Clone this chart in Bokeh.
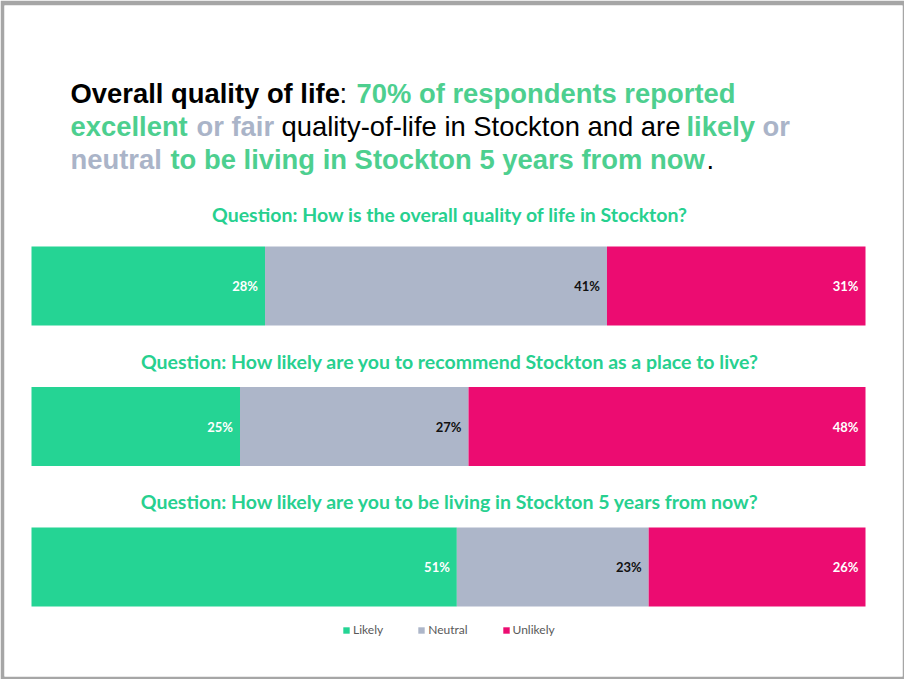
from bokeh.plotting import figure
from bokeh.models import Range1d, Label, Legend, LegendItem, ColumnDataSource
from bokeh.core.properties import value
from bokeh.embed import file_html
from bokeh.resources import INLINE

# ---------------- data ----------------
questions = [
    "Question:  How is the overall quality of life in Stockton?",
    "Question:  How likely are you to recommend Stockton as a place to live?",
    "Question:  How likely are you to be living in Stockton 5 years from now?",
]
categories = ["Likely", "Neutral", "Unlikely"]
likely = [28, 25, 51]
neutral = [41, 27.4, 23]
unlikely = [31, 47.6, 26]

# ---------------- styles ----------------
BAR_COLORS = ["#25d494", "#adb6c9", "#ec0c71"]
LABEL_COLORS = ["#ffffff", "#111111", "#ffffff"]
Q_COLOR = "#27d08f"
T_GREEN = "#4dcf8f"
T_GRAY = "#aab4c8"
T_BLACK = "#000000"
Q_PIX_Y = [213.5, 360.5, 500.5]

W, H = 904, 679
BL, BR, BT, BB = 4, 2, 5, 3
SX = 8.34          # px per percent
SY = 140.5         # px per row
X0 = -27 / SX      # data x at frame left
Y0 = -280.5 / SY   # data y at frame top


def X(px):
    return X0 + (px - BL) / SX


def Y(py):
    return Y0 + (py - BT) / SY


p = figure(width=W, height=H, output_backend="svg", toolbar_location=None,
           x_range=Range1d(X0, X0 + (W - BL - BR) / SX),
           y_range=Range1d(Y0 + (H - BT - BB) / SY, Y0),
           min_border_left=BL, min_border_right=BR,
           min_border_top=BT, min_border_bottom=BB)
p.border_fill_color = "#a6a6a6"
p.background_fill_color = "white"
p.outline_line_color = None
p.axis.visible = False
p.grid.visible = False

rows = list(range(len(questions)))
source = ColumnDataSource(dict(row=rows, Likely=likely, Neutral=neutral, Unlikely=unlikely))
rends = p.hbar_stack(categories, y="row", height=79 / SY, color=BAR_COLORS,
                     line_color=None, source=source)

# value labels at end of each segment
lx, ly, lt, lc = [], [], [], []
series = [likely, neutral, unlikely]
for r in rows:
    cum = 0
    for k, s in enumerate(series):
        cum += s[r]
        lx.append(cum)
        ly.append(r)
        lt.append(f"{round(s[r])}%")
        lc.append(LABEL_COLORS[k])
p.text(x="x", y="y", text="t", text_color="c",
       source=ColumnDataSource(dict(x=lx, y=ly, t=lt, c=lc)),
       text_align="right", text_baseline="middle", x_offset=-7,
       text_font=value("Lato"), text_font_style="bold", text_font_size="13px")

# question headings
for q, qy in zip(questions, Q_PIX_Y):
    p.add_layout(Label(x=X(452), y=Y(qy), text=q, text_align="center",
                       text_baseline="middle", text_font="Lato", text_font_style="bold",
                       text_font_size="19.5px", text_color=Q_COLOR))

# title (multi-colour pieces)
title_pieces = [
    (70, 93, "Overall quality of life", T_BLACK, "bold"),
    (339, 93, ":", T_BLACK, "normal"),
    (356, 93, "70% of respondents reported", T_GREEN, "bold"),
    (70, 126, "excellent", T_GREEN, "bold"),
    (196, 126, "or fair", T_GRAY, "bold"),
    (281, 126, "quality-of-life in Stockton and are", T_BLACK, "normal"),
    (686, 126, "likely", T_GREEN, "bold"),
    (762, 126, "or", T_GRAY, "bold"),
    (70, 159, "neutral", T_GRAY, "bold"),
    (170, 159, "to be living in Stockton 5 years from now", T_GREEN, "bold"),
    (706, 159, ".", T_BLACK, "normal"),
]
for px, py, txt, col, sty in title_pieces:
    p.add_layout(Label(x=X(px), y=Y(py), text=txt, text_align="left",
                       text_baseline="alphabetic", text_font="Liberation Sans",
                       text_font_style=sty, text_font_size="27.4px", text_color=col))

legend = Legend(items=[LegendItem(label=c, renderers=[r]) for c, r in zip(categories, rends)],
                orientation="horizontal", location=(338, 39),
                glyph_width=8, glyph_height=8, label_standoff=3, spacing=34,
                padding=0, margin=0, border_line_color=None, background_fill_alpha=0,
                label_text_font="Lato", label_text_font_size="12px",
                label_text_color="#595959")
p.add_layout(legend)

open("out.html", "w").write(file_html(p, INLINE))
